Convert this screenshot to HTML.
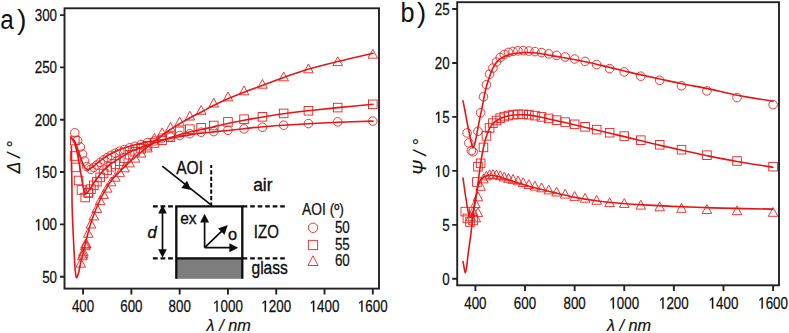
<!DOCTYPE html>
<html><head><meta charset="utf-8"><style>
html,body{margin:0;padding:0;background:#fff;}
body{width:789px;height:333px;overflow:hidden;font-family:"Liberation Sans",sans-serif;}
svg{display:block;}
</style></head><body>
<svg width="789" height="333" viewBox="0 0 789 333">
<rect width="789" height="333" fill="#fff"/>
<g fill="none" stroke="#ea2222" stroke-width="0.9">
<circle cx="372.80" cy="121.10" r="4.30"/><circle cx="337.69" cy="121.90" r="4.30"/><circle cx="308.43" cy="123.60" r="4.30"/><circle cx="283.66" cy="125.20" r="4.30"/><circle cx="262.44" cy="127.20" r="4.30"/><circle cx="244.05" cy="128.90" r="4.30"/><circle cx="227.95" cy="130.30" r="4.30"/><circle cx="213.75" cy="131.60" r="4.30"/><circle cx="201.13" cy="132.20" r="4.30"/><circle cx="189.83" cy="133.70" r="4.30"/><circle cx="179.67" cy="135.50" r="4.30"/><circle cx="170.47" cy="136.90" r="4.30"/><circle cx="162.11" cy="138.10" r="4.30"/><circle cx="154.48" cy="140.98" r="4.30"/><circle cx="147.48" cy="142.61" r="4.30"/><circle cx="141.04" cy="144.43" r="4.30"/><circle cx="135.10" cy="146.30" r="4.30"/><circle cx="129.60" cy="147.83" r="4.30"/><circle cx="124.49" cy="149.50" r="4.30"/><circle cx="119.73" cy="151.13" r="4.30"/><circle cx="115.29" cy="153.26" r="4.30"/><circle cx="111.14" cy="155.25" r="4.30"/><circle cx="107.24" cy="157.56" r="4.30"/><circle cx="103.58" cy="159.89" r="4.30"/><circle cx="100.14" cy="162.42" r="4.30"/><circle cx="96.90" cy="165.08" r="4.30"/><circle cx="93.83" cy="167.44" r="4.30"/><circle cx="90.93" cy="169.28" r="4.30"/><circle cx="74.80" cy="132.80" r="4.30"/><circle cx="77.60" cy="140.50" r="4.30"/><circle cx="80.30" cy="147.00" r="4.30"/><circle cx="82.50" cy="154.00" r="4.30"/><circle cx="84.60" cy="161.00" r="4.30"/><circle cx="86.80" cy="166.50" r="4.30"/><rect x="368.50" y="100.00" width="8.60" height="8.60"/><rect x="333.39" y="103.30" width="8.60" height="8.60"/><rect x="304.13" y="106.50" width="8.60" height="8.60"/><rect x="279.36" y="109.10" width="8.60" height="8.60"/><rect x="258.14" y="112.50" width="8.60" height="8.60"/><rect x="239.75" y="114.90" width="8.60" height="8.60"/><rect x="223.65" y="117.60" width="8.60" height="8.60"/><rect x="209.45" y="121.20" width="8.60" height="8.60"/><rect x="196.83" y="123.50" width="8.60" height="8.60"/><rect x="185.53" y="124.90" width="8.60" height="8.60"/><rect x="175.37" y="127.10" width="8.60" height="8.60"/><rect x="166.17" y="132.89" width="8.60" height="8.60"/><rect x="157.81" y="135.91" width="8.60" height="8.60"/><rect x="150.18" y="138.69" width="8.60" height="8.60"/><rect x="143.18" y="141.36" width="8.60" height="8.60"/><rect x="136.74" y="144.40" width="8.60" height="8.60"/><rect x="130.80" y="147.44" width="8.60" height="8.60"/><rect x="125.30" y="150.43" width="8.60" height="8.60"/><rect x="120.19" y="153.96" width="8.60" height="8.60"/><rect x="115.43" y="156.88" width="8.60" height="8.60"/><rect x="110.99" y="159.76" width="8.60" height="8.60"/><rect x="106.84" y="162.46" width="8.60" height="8.60"/><rect x="102.94" y="165.79" width="8.60" height="8.60"/><rect x="99.28" y="169.21" width="8.60" height="8.60"/><rect x="95.84" y="173.12" width="8.60" height="8.60"/><rect x="92.60" y="177.33" width="8.60" height="8.60"/><rect x="89.53" y="181.05" width="8.60" height="8.60"/><rect x="86.63" y="184.83" width="8.60" height="8.60"/><rect x="83.88" y="188.21" width="8.60" height="8.60"/><rect x="70.50" y="136.20" width="8.60" height="8.60"/><rect x="70.30" y="151.70" width="8.60" height="8.60"/><rect x="71.30" y="163.10" width="8.60" height="8.60"/><rect x="74.30" y="176.20" width="8.60" height="8.60"/><rect x="77.20" y="185.70" width="8.60" height="8.60"/><rect x="80.90" y="193.20" width="8.60" height="8.60"/><rect x="84.20" y="188.70" width="8.60" height="8.60"/><path d="M372.80 49.40L377.60 58.20L368.00 58.20Z"/><path d="M337.69 56.80L342.49 65.60L332.89 65.60Z"/><path d="M308.43 64.00L313.23 72.80L303.63 72.80Z"/><path d="M283.66 72.00L288.46 80.80L278.86 80.80Z"/><path d="M262.44 79.40L267.24 88.20L257.64 88.20Z"/><path d="M244.05 86.00L248.85 94.80L239.25 94.80Z"/><path d="M227.95 92.00L232.75 100.80L223.15 100.80Z"/><path d="M213.75 98.20L218.55 107.00L208.95 107.00Z"/><path d="M201.13 105.50L205.93 114.30L196.33 114.30Z"/><path d="M189.83 111.20L194.63 120.00L185.03 120.00Z"/><path d="M179.67 117.10L184.47 125.90L174.87 125.90Z"/><path d="M170.47 122.50L175.27 131.30L165.67 131.30Z"/><path d="M162.11 127.90L166.91 136.70L157.31 136.70Z"/><path d="M154.48 133.30L159.28 142.10L149.68 142.10Z"/><path d="M147.48 143.12L152.28 151.92L142.68 151.92Z"/><path d="M141.04 148.27L145.84 157.07L136.24 157.07Z"/><path d="M135.10 153.32L139.90 162.12L130.30 162.12Z"/><path d="M129.60 158.09L134.40 166.89L124.80 166.89Z"/><path d="M124.49 162.99L129.29 171.79L119.69 171.79Z"/><path d="M119.73 167.59L124.53 176.39L114.93 176.39Z"/><path d="M115.29 172.38L120.09 181.18L110.49 181.18Z"/><path d="M111.14 177.04L115.94 185.84L106.34 185.84Z"/><path d="M107.24 183.29L112.04 192.09L102.44 192.09Z"/><path d="M103.58 189.64L108.38 198.44L98.78 198.44Z"/><path d="M100.14 195.84L104.94 204.64L95.34 204.64Z"/><path d="M96.90 203.67L101.70 212.47L92.10 212.47Z"/><path d="M93.83 211.14L98.63 219.94L89.03 219.94Z"/><path d="M90.93 219.21L95.73 228.01L86.13 228.01Z"/><path d="M88.18 228.48L92.98 237.28L83.38 237.28Z"/><path d="M85.58 239.20L90.38 248.00L80.78 248.00Z"/><path d="M83.10 249.16L87.90 257.96L78.30 257.96Z"/><path d="M80.74 258.38L85.54 267.18L75.94 267.18Z"/><path d="M82.40 251.00L87.20 259.80L77.60 259.80Z"/><path d="M83.40 247.00L88.20 255.80L78.60 255.80Z"/><path d="M85.30 240.90L90.10 249.70L80.50 249.70Z"/><path d="M86.30 239.00L91.10 247.80L81.50 247.80Z"/>
<circle cx="773.10" cy="104.70" r="4.30"/><circle cx="737.01" cy="97.60" r="4.30"/><circle cx="706.94" cy="90.90" r="4.30"/><circle cx="681.50" cy="85.80" r="4.30"/><circle cx="659.69" cy="80.30" r="4.30"/><circle cx="640.79" cy="76.20" r="4.30"/><circle cx="624.25" cy="71.90" r="4.30"/><circle cx="609.66" cy="68.60" r="4.30"/><circle cx="596.68" cy="64.60" r="4.30"/><circle cx="585.08" cy="61.40" r="4.30"/><circle cx="574.63" cy="59.00" r="4.30"/><circle cx="565.18" cy="57.00" r="4.30"/><circle cx="556.59" cy="55.40" r="4.30"/><circle cx="548.75" cy="53.90" r="4.30"/><circle cx="541.55" cy="52.60" r="4.30"/><circle cx="534.94" cy="51.60" r="4.30"/><circle cx="528.83" cy="51.00" r="4.30"/><circle cx="523.18" cy="50.60" r="4.30"/><circle cx="517.93" cy="50.80" r="4.30"/><circle cx="513.04" cy="51.40" r="4.30"/><circle cx="508.48" cy="52.40" r="4.30"/><circle cx="504.21" cy="54.40" r="4.30"/><circle cx="500.21" cy="57.50" r="4.30"/><circle cx="496.45" cy="62.00" r="4.30"/><circle cx="492.91" cy="68.10" r="4.30"/><circle cx="489.58" cy="74.20" r="4.30"/><circle cx="486.43" cy="84.70" r="4.30"/><circle cx="483.45" cy="96.80" r="4.30"/><circle cx="480.62" cy="112.80" r="4.30"/><circle cx="477.94" cy="131.30" r="4.30"/><circle cx="473.10" cy="151.80" r="4.30"/><circle cx="471.40" cy="150.70" r="4.30"/><circle cx="468.90" cy="142.90" r="4.30"/><circle cx="467.10" cy="132.90" r="4.30"/><rect x="768.80" y="162.40" width="8.60" height="8.60"/><rect x="732.71" y="156.70" width="8.60" height="8.60"/><rect x="702.64" y="150.88" width="8.60" height="8.60"/><rect x="677.20" y="145.37" width="8.60" height="8.60"/><rect x="655.39" y="140.48" width="8.60" height="8.60"/><rect x="636.49" y="135.90" width="8.60" height="8.60"/><rect x="619.95" y="131.79" width="8.60" height="8.60"/><rect x="605.36" y="128.42" width="8.60" height="8.60"/><rect x="592.38" y="125.30" width="8.60" height="8.60"/><rect x="580.78" y="122.52" width="8.60" height="8.60"/><rect x="570.33" y="120.02" width="8.60" height="8.60"/><rect x="560.88" y="117.77" width="8.60" height="8.60"/><rect x="552.29" y="115.86" width="8.60" height="8.60"/><rect x="544.45" y="114.13" width="8.60" height="8.60"/><rect x="537.25" y="112.60" width="8.60" height="8.60"/><rect x="530.64" y="111.33" width="8.60" height="8.60"/><rect x="524.53" y="110.38" width="8.60" height="8.60"/><rect x="518.88" y="110.06" width="8.60" height="8.60"/><rect x="513.63" y="110.01" width="8.60" height="8.60"/><rect x="508.74" y="110.41" width="8.60" height="8.60"/><rect x="504.18" y="111.25" width="8.60" height="8.60"/><rect x="499.91" y="112.31" width="8.60" height="8.60"/><rect x="495.91" y="113.89" width="8.60" height="8.60"/><rect x="492.15" y="116.19" width="8.60" height="8.60"/><rect x="488.61" y="118.83" width="8.60" height="8.60"/><rect x="485.28" y="123.66" width="8.60" height="8.60"/><rect x="482.13" y="131.57" width="8.60" height="8.60"/><rect x="479.15" y="143.11" width="8.60" height="8.60"/><rect x="476.32" y="159.05" width="8.60" height="8.60"/><rect x="473.64" y="162.40" width="8.60" height="8.60"/><rect x="472.60" y="177.70" width="8.60" height="8.60"/><rect x="468.80" y="216.20" width="8.60" height="8.60"/><rect x="465.70" y="217.70" width="8.60" height="8.60"/><rect x="463.10" y="214.10" width="8.60" height="8.60"/><rect x="461.00" y="207.30" width="8.60" height="8.60"/><path d="M773.10 207.50L777.90 216.30L768.30 216.30Z"/><path d="M737.01 205.90L741.81 214.70L732.21 214.70Z"/><path d="M706.94 204.70L711.74 213.50L702.14 213.50Z"/><path d="M681.50 203.50L686.30 212.30L676.70 212.30Z"/><path d="M659.69 202.00L664.49 210.80L654.89 210.80Z"/><path d="M640.79 200.30L645.59 209.10L635.99 209.10Z"/><path d="M624.25 198.60L629.05 207.40L619.45 207.40Z"/><path d="M609.66 197.80L614.46 206.60L604.86 206.60Z"/><path d="M596.68 195.50L601.48 204.30L591.88 204.30Z"/><path d="M585.08 193.40L589.88 202.20L580.28 202.20Z"/><path d="M574.63 191.60L579.43 200.40L569.83 200.40Z"/><path d="M565.18 189.30L569.98 198.10L560.38 198.10Z"/><path d="M556.59 187.20L561.39 196.00L551.79 196.00Z"/><path d="M548.75 185.10L553.55 193.90L543.95 193.90Z"/><path d="M541.55 183.00L546.35 191.80L536.75 191.80Z"/><path d="M534.94 181.30L539.74 190.10L530.14 190.10Z"/><path d="M528.83 179.70L533.63 188.50L524.03 188.50Z"/><path d="M523.18 177.70L527.98 186.50L518.38 186.50Z"/><path d="M517.93 176.00L522.73 184.80L513.13 184.80Z"/><path d="M513.04 174.60L517.84 183.40L508.24 183.40Z"/><path d="M508.48 173.50L513.28 182.30L503.68 182.30Z"/><path d="M504.21 172.10L509.01 180.90L499.41 180.90Z"/><path d="M500.21 170.80L505.01 179.60L495.41 179.60Z"/><path d="M496.45 170.00L501.25 178.80L491.65 178.80Z"/><path d="M492.91 169.50L497.71 178.30L488.11 178.30Z"/><path d="M489.58 169.80L494.38 178.60L484.78 178.60Z"/><path d="M486.43 171.10L491.23 179.90L481.63 179.90Z"/><path d="M483.45 174.10L488.25 182.90L478.65 182.90Z"/><path d="M480.62 181.50L485.42 190.30L475.82 190.30Z"/><path d="M477.94 192.00L482.74 200.80L473.14 200.80Z"/><path d="M475.40 198.70L480.20 207.50L470.60 207.50Z"/><path d="M472.98 206.70L477.78 215.50L468.18 215.50Z"/><path d="M470.67 212.00L475.47 220.80L465.87 220.80Z"/><path d="M477.90 207.80L482.70 216.60L473.10 216.60Z"/><path d="M475.80 213.10L480.60 221.90L471.00 221.90Z"/>
</g>
<g fill="none" stroke="#e41616" stroke-width="1.6" stroke-linejoin="round" stroke-linecap="round">
<path d="M71.30 138.10 C71.83 138.55 73.33 138.68 74.50 140.80 C75.67 142.92 77.13 147.55 78.30 150.80 C79.47 154.05 80.55 157.72 81.50 160.30 C82.45 162.88 83.20 164.82 84.00 166.30 C84.80 167.78 85.55 168.69 86.30 169.20 C87.05 169.71 87.55 169.67 88.50 169.39 C89.45 169.10 90.58 168.47 92.00 167.49 C93.42 166.50 95.33 164.85 97.00 163.50 C98.67 162.15 99.83 160.93 102.00 159.40 C104.17 157.87 107.00 155.95 110.00 154.30 C113.00 152.65 116.83 150.80 120.00 149.50 C123.17 148.20 126.00 147.42 129.00 146.50 C132.00 145.58 135.00 144.75 138.00 144.00 C141.00 143.25 144.00 142.58 147.00 142.00 C150.00 141.42 153.00 140.97 156.00 140.50 C159.00 140.03 161.13 139.82 165.00 139.20 C168.87 138.58 175.17 137.51 179.20 136.79 C183.23 136.08 185.50 135.51 189.20 134.91 C192.90 134.31 197.35 133.68 201.40 133.18 C205.45 132.68 209.10 132.34 213.50 131.89 C217.90 131.44 222.72 131.00 227.80 130.47 C232.88 129.94 238.13 129.35 244.00 128.72 C249.87 128.08 256.37 127.27 263.00 126.68 C269.63 126.10 276.28 125.70 283.80 125.20 C291.32 124.70 299.10 124.18 308.10 123.70 C317.10 123.22 326.98 122.73 337.80 122.30 C348.62 121.87 367.13 121.30 373.00 121.10"/>
<path d="M71.30 137.60 C71.83 138.55 73.58 141.02 74.50 143.30 C75.42 145.58 76.05 148.13 76.80 151.30 C77.55 154.47 78.30 158.47 79.00 162.30 C79.70 166.13 80.33 170.30 81.00 174.30 C81.67 178.30 82.37 183.17 83.00 186.30 C83.63 189.43 84.22 191.90 84.80 193.10 C85.38 194.30 85.80 193.94 86.50 193.50 C87.20 193.06 87.92 192.03 89.00 190.49 C90.08 188.95 91.67 186.24 93.00 184.24 C94.33 182.25 95.50 180.54 97.00 178.50 C98.50 176.46 99.83 174.33 102.00 172.00 C104.17 169.67 107.00 166.83 110.00 164.50 C113.00 162.17 116.83 160.00 120.00 158.00 C123.17 156.00 126.00 154.07 129.00 152.50 C132.00 150.93 135.00 149.80 138.00 148.60 C141.00 147.40 144.00 146.30 147.00 145.30 C150.00 144.30 153.00 143.57 156.00 142.60 C159.00 141.63 161.13 140.80 165.00 139.50 C168.87 138.20 175.17 136.05 179.20 134.80 C183.23 133.55 185.50 132.87 189.20 132.00 C192.90 131.13 197.35 130.43 201.40 129.55 C205.45 128.68 209.10 127.76 213.50 126.75 C217.90 125.74 222.72 124.54 227.80 123.47 C232.88 122.40 238.13 121.41 244.00 120.33 C249.87 119.25 256.37 118.09 263.00 117.00 C269.63 115.91 276.28 114.83 283.80 113.80 C291.32 112.77 299.10 111.83 308.10 110.80 C317.10 109.77 326.98 108.68 337.80 107.60 C348.62 106.52 367.13 104.85 373.00 104.30"/>
<path d="M71.40 146.00 C71.43 149.17 71.52 158.50 71.60 165.00 C71.68 171.50 71.82 178.33 71.90 185.00 C71.98 191.67 71.95 198.33 72.10 205.00 C72.25 211.67 72.55 218.83 72.80 225.00 C73.05 231.17 73.33 236.50 73.60 242.00 C73.87 247.50 74.13 253.33 74.40 258.00 C74.67 262.67 74.90 266.80 75.20 270.00 C75.50 273.20 75.83 276.12 76.20 277.20 C76.57 278.28 76.93 277.53 77.40 276.50 C77.87 275.47 78.43 273.42 79.00 271.00 C79.57 268.58 79.90 265.83 80.80 262.00 C81.70 258.17 83.20 252.83 84.40 248.00 C85.60 243.17 86.73 237.75 88.00 233.00 C89.27 228.25 90.00 225.00 92.00 219.50 C94.00 214.00 97.67 205.05 100.00 200.00 C102.33 194.95 104.08 192.45 106.00 189.18 C107.92 185.91 109.17 183.36 111.50 180.36 C113.83 177.36 116.92 174.33 120.00 171.20 C123.08 168.07 126.67 164.63 130.00 161.60 C133.33 158.57 136.67 155.77 140.00 153.00 C143.33 150.23 146.43 147.83 150.00 145.00 C153.57 142.17 158.15 138.50 161.40 136.00 C164.65 133.50 166.53 132.00 169.50 130.00 C172.47 128.00 175.92 125.97 179.20 124.00 C182.48 122.03 185.50 120.20 189.20 118.20 C192.90 116.20 197.35 114.12 201.40 112.00 C205.45 109.88 209.10 107.70 213.50 105.50 C217.90 103.30 222.72 101.02 227.80 98.81 C232.88 96.59 238.13 94.45 244.00 92.20 C249.87 89.95 256.37 87.75 263.00 85.30 C269.63 82.85 276.28 80.17 283.80 77.51 C291.32 74.84 299.10 71.97 308.10 69.30 C317.10 66.63 326.98 64.18 337.80 61.50 C348.62 58.82 367.13 54.58 373.00 53.20"/>
<path d="M463.00 100.80 C463.33 102.50 464.30 107.30 465.00 111.00 C465.70 114.70 466.45 119.17 467.20 123.00 C467.95 126.83 468.78 130.58 469.50 134.00 C470.22 137.42 470.95 141.20 471.50 143.50 C472.05 145.80 472.38 147.38 472.80 147.80 C473.22 148.22 473.55 147.13 474.00 146.00 C474.45 144.87 474.93 143.50 475.50 141.00 C476.07 138.50 476.73 134.50 477.40 131.00 C478.07 127.50 478.73 123.83 479.50 120.00 C480.27 116.17 481.25 111.75 482.00 108.00 C482.75 104.25 483.33 100.83 484.00 97.50 C484.67 94.17 485.15 91.25 486.00 88.00 C486.85 84.75 488.10 81.00 489.10 78.00 C490.10 75.00 490.98 72.28 492.00 70.00 C493.02 67.72 494.12 65.93 495.20 64.30 C496.28 62.67 497.23 61.38 498.50 60.20 C499.77 59.02 500.82 58.18 502.80 57.20 C504.78 56.22 507.87 55.00 510.40 54.30 C512.93 53.60 515.47 53.30 518.00 53.00 C520.53 52.70 523.10 52.53 525.60 52.50 C528.10 52.47 530.47 52.60 533.00 52.80 C535.53 53.00 538.30 53.33 540.80 53.70 C543.30 54.07 545.47 54.55 548.00 55.00 C550.53 55.45 552.12 55.73 556.00 56.40 C559.88 57.07 566.22 58.07 571.30 59.00 C576.38 59.93 581.72 60.98 586.50 62.00 C591.28 63.02 596.18 64.20 600.00 65.10 C603.82 66.00 605.35 66.42 609.40 67.40 C613.45 68.38 619.03 69.75 624.30 71.00 C629.57 72.25 635.05 73.57 641.00 74.90 C646.95 76.23 653.17 77.52 660.00 79.00 C666.83 80.48 674.08 82.20 682.00 83.80 C689.92 85.40 698.33 86.70 707.50 88.60 C716.67 90.50 726.08 93.10 737.00 95.20 C747.92 97.30 767.00 100.20 773.00 101.20"/>
<path d="M463.00 178.00 C463.40 180.83 464.65 190.00 465.40 195.00 C466.15 200.00 466.87 204.58 467.50 208.00 C468.13 211.42 468.72 213.97 469.20 215.50 C469.68 217.03 469.97 217.12 470.40 217.20 C470.83 217.28 471.28 217.20 471.80 216.00 C472.32 214.80 472.93 212.50 473.50 210.00 C474.07 207.50 474.65 203.83 475.20 201.00 C475.75 198.17 476.27 196.50 476.80 193.00 C477.33 189.50 477.87 184.17 478.40 180.00 C478.93 175.83 479.48 171.67 480.00 168.00 C480.52 164.33 480.97 161.17 481.50 158.00 C482.03 154.83 482.62 151.83 483.20 149.00 C483.78 146.17 484.37 143.42 485.00 141.00 C485.63 138.58 486.30 136.50 487.00 134.50 C487.70 132.50 488.20 130.83 489.20 129.00 C490.20 127.17 491.38 125.13 493.00 123.50 C494.62 121.87 496.90 120.32 498.90 119.20 C500.90 118.08 502.82 117.45 505.00 116.80 C507.18 116.15 509.82 115.63 512.00 115.30 C514.18 114.97 515.60 114.87 518.10 114.80 C520.60 114.73 523.80 114.62 527.00 114.90 C530.20 115.18 533.47 115.78 537.30 116.50 C541.13 117.22 545.18 118.15 550.00 119.20 C554.82 120.25 559.53 121.25 566.20 122.80 C572.87 124.35 582.70 126.75 590.00 128.50 C597.30 130.25 604.28 131.95 610.00 133.30 C615.72 134.65 619.10 135.35 624.30 136.60 C629.50 137.85 635.22 139.33 641.20 140.80 C647.18 142.27 653.38 143.82 660.20 145.40 C667.02 146.98 674.22 148.57 682.10 150.30 C689.98 152.03 698.35 153.93 707.50 155.80 C716.65 157.67 726.08 159.60 737.00 161.50 C747.92 163.40 767.00 166.25 773.00 167.20"/>
<path d="M463.00 261.50 C463.20 262.58 463.82 266.12 464.20 268.00 C464.58 269.88 464.92 272.80 465.30 272.80 C465.68 272.80 466.05 270.97 466.50 268.00 C466.95 265.03 467.50 259.00 468.00 255.00 C468.50 251.00 469.03 247.33 469.50 244.00 C469.97 240.67 470.30 239.00 470.80 235.00 C471.30 231.00 471.88 225.00 472.50 220.00 C473.12 215.00 473.83 209.50 474.50 205.00 C475.17 200.50 475.85 196.42 476.50 193.00 C477.15 189.58 477.65 186.75 478.40 184.50 C479.15 182.25 479.95 180.82 481.00 179.50 C482.05 178.18 483.28 177.28 484.70 176.60 C486.12 175.92 488.10 175.58 489.50 175.40 C490.90 175.22 491.35 175.23 493.10 175.50 C494.85 175.77 496.85 176.08 500.00 177.00 C503.15 177.92 506.50 179.28 512.00 181.00 C517.50 182.72 525.98 185.37 533.00 187.30 C540.02 189.23 547.08 190.92 554.10 192.60 C561.12 194.28 568.08 196.03 575.10 197.40 C582.12 198.77 589.18 199.87 596.20 200.80 C603.22 201.73 608.57 202.28 617.20 203.00 C625.83 203.72 634.87 204.38 648.00 205.10 C661.13 205.82 680.00 206.72 696.00 207.30 C712.00 207.88 731.17 208.30 744.00 208.60 C756.83 208.90 768.17 209.02 773.00 209.10"/>
</g>
<g fill="none" stroke="#222222" stroke-width="1.9">
<rect x="64.5" y="8.3" width="314.5" height="280.3"/>
<rect x="457.2" y="2.2" width="321.8" height="283.1"/>
<path d="M60 276.70H64.5M60 224.38H64.5M60 172.06H64.5M60 119.74H64.5M60 67.42H64.5M60 15.10H64.5M83.10 288.6V294.4M131.38 288.6V294.4M179.67 288.6V294.4M227.95 288.6V294.4M276.24 288.6V294.4M324.52 288.6V294.4M372.80 288.6V294.4M452.2 278.80H457.2M452.2 224.84H457.2M452.2 170.88H457.2M452.2 116.92H457.2M452.2 62.96H457.2M452.2 9.00H457.2M475.40 285.3V290.9M525.02 285.3V290.9M574.63 285.3V290.9M624.25 285.3V290.9M673.86 285.3V290.9M723.48 285.3V290.9M773.10 285.3V290.9"/>
</g>
<g font-family="'Liberation Sans', sans-serif" fill="#111" stroke="#111" stroke-width="0.25">
<text transform="translate(42.14 282.60) scale(0.835 1)" x="0.00 8.90" font-size="16.00">50</text>
<text transform="translate(34.71 230.28) scale(0.835 1)" x="8.90 17.80" font-size="16.00">00</text><path transform="translate(34.71 230.28) scale(0.00652 -0.00781)" stroke="#111" stroke-width="45" d="M515 0V1237L197 1010V1180L530 1409H696V0Z"/>
<text transform="translate(34.71 177.96) scale(0.835 1)" x="8.90 17.80" font-size="16.00">50</text><path transform="translate(34.71 177.96) scale(0.00652 -0.00781)" stroke="#111" stroke-width="45" d="M515 0V1237L197 1010V1180L530 1409H696V0Z"/>
<text transform="translate(34.71 125.64) scale(0.835 1)" x="0.00 8.90 17.80" font-size="16.00">200</text>
<text transform="translate(34.71 73.32) scale(0.835 1)" x="0.00 8.90 17.80" font-size="16.00">250</text>
<text transform="translate(34.71 21.00) scale(0.835 1)" x="0.00 8.90 17.80" font-size="16.00">300</text>
<text transform="translate(71.95 311.70) scale(0.835 1)" x="0.00 8.90 17.80" font-size="16.00">400</text>
<text transform="translate(120.24 311.70) scale(0.835 1)" x="0.00 8.90 17.80" font-size="16.00">600</text>
<text transform="translate(168.52 311.70) scale(0.835 1)" x="0.00 8.90 17.80" font-size="16.00">800</text>
<text transform="translate(213.09 311.70) scale(0.835 1)" x="8.90 17.80 26.70" font-size="16.00">000</text><path transform="translate(213.09 311.70) scale(0.00652 -0.00781)" stroke="#111" stroke-width="45" d="M515 0V1237L197 1010V1180L530 1409H696V0Z"/>
<text transform="translate(261.38 311.70) scale(0.835 1)" x="8.90 17.80 26.70" font-size="16.00">200</text><path transform="translate(261.38 311.70) scale(0.00652 -0.00781)" stroke="#111" stroke-width="45" d="M515 0V1237L197 1010V1180L530 1409H696V0Z"/>
<text transform="translate(309.66 311.70) scale(0.835 1)" x="8.90 17.80 26.70" font-size="16.00">400</text><path transform="translate(309.66 311.70) scale(0.00652 -0.00781)" stroke="#111" stroke-width="45" d="M515 0V1237L197 1010V1180L530 1409H696V0Z"/>
<text transform="translate(357.94 311.70) scale(0.835 1)" x="8.90 17.80 26.70" font-size="16.00">600</text><path transform="translate(357.94 311.70) scale(0.00652 -0.00781)" stroke="#111" stroke-width="45" d="M515 0V1237L197 1010V1180L530 1409H696V0Z"/>
<text transform="translate(442.17 284.70) scale(0.835 1)" x="0.00" font-size="16.00">0</text>
<text transform="translate(442.17 230.74) scale(0.835 1)" x="0.00" font-size="16.00">5</text>
<text transform="translate(434.74 176.78) scale(0.835 1)" x="8.90" font-size="16.00">0</text><path transform="translate(434.74 176.78) scale(0.00652 -0.00781)" stroke="#111" stroke-width="45" d="M515 0V1237L197 1010V1180L530 1409H696V0Z"/>
<text transform="translate(434.74 122.82) scale(0.835 1)" x="8.90" font-size="16.00">5</text><path transform="translate(434.74 122.82) scale(0.00652 -0.00781)" stroke="#111" stroke-width="45" d="M515 0V1237L197 1010V1180L530 1409H696V0Z"/>
<text transform="translate(434.74 68.86) scale(0.835 1)" x="0.00 8.90" font-size="16.00">20</text>
<text transform="translate(434.74 14.90) scale(0.835 1)" x="0.00 8.90" font-size="16.00">25</text>
<text transform="translate(464.25 308.60) scale(0.835 1)" x="0.00 8.90 17.80" font-size="16.00">400</text>
<text transform="translate(513.87 308.60) scale(0.835 1)" x="0.00 8.90 17.80" font-size="16.00">600</text>
<text transform="translate(563.49 308.60) scale(0.835 1)" x="0.00 8.90 17.80" font-size="16.00">800</text>
<text transform="translate(609.39 308.60) scale(0.835 1)" x="8.90 17.80 26.70" font-size="16.00">000</text><path transform="translate(609.39 308.60) scale(0.00652 -0.00781)" stroke="#111" stroke-width="45" d="M515 0V1237L197 1010V1180L530 1409H696V0Z"/>
<text transform="translate(659.00 308.60) scale(0.835 1)" x="8.90 17.80 26.70" font-size="16.00">200</text><path transform="translate(659.00 308.60) scale(0.00652 -0.00781)" stroke="#111" stroke-width="45" d="M515 0V1237L197 1010V1180L530 1409H696V0Z"/>
<text transform="translate(708.62 308.60) scale(0.835 1)" x="8.90 17.80 26.70" font-size="16.00">400</text><path transform="translate(708.62 308.60) scale(0.00652 -0.00781)" stroke="#111" stroke-width="45" d="M515 0V1237L197 1010V1180L530 1409H696V0Z"/>
<text transform="translate(758.24 308.60) scale(0.835 1)" x="8.90 17.80 26.70" font-size="16.00">600</text><path transform="translate(758.24 308.60) scale(0.00652 -0.00781)" stroke="#111" stroke-width="45" d="M515 0V1237L197 1010V1180L530 1409H696V0Z"/>
</g>
<g font-family="'Liberation Sans', sans-serif" fill="#111" stroke="#111" stroke-width="0.2">
<text x="228.7" y="331.3" font-size="16.3" text-anchor="middle" font-style="italic">λ / nm</text>
<text x="629.1" y="331.3" font-size="16.3" text-anchor="middle" font-style="italic">λ / nm</text>
<text transform="translate(19.6 157.25) rotate(-90)" font-size="17.5" text-anchor="middle" font-style="italic">Δ / °</text>
<text transform="translate(426 156.9) rotate(-90)" font-size="17.5" text-anchor="middle" font-style="italic">Ψ / °</text>
</g>
<g font-family="'Liberation Sans', sans-serif" fill="#111">
<text transform="translate(0.20 29.10) scale(0.880 1)" font-size="27.50" text-anchor="start">a</text>
<text transform="translate(17.20 29.30) scale(1.000 1)" font-size="27.50" text-anchor="start">)</text>
<text transform="translate(400.40 22.10) scale(0.900 1)" font-size="28.00" text-anchor="start">b</text>
<text transform="translate(417.00 22.10) scale(1.000 1)" font-size="27.50" text-anchor="start">)</text>
</g>
<g stroke="#0d0d0d" fill="none"><path d="M152.9 206.4H173.2M152.9 258.3H173.2" stroke-width="2.3" stroke-dasharray="4.8 2.8"/><path d="M242.7 206.4H285M242.7 258.3H285" stroke-width="2.3" stroke-dasharray="4.6 2.9"/><path d="M211.2 206.75V165" stroke-width="2" stroke-dasharray="4.3 2.15"/></g><rect x="176.3" y="258.3" width="66" height="20.5" fill="#7d7d7d"/><g stroke="#0d0d0d" fill="none"><path d="M176.3 278.8V206.4H242.3V278.8M176.3 258.3H242.3" stroke-width="2.3"/><path d="M162.3 166.1L210.7 204.6" stroke-width="1.7"/></g><g fill="#0d0d0d" stroke="none"><path d="M191.20 189.90L181.29 187.90L187.02 180.70Z"/><path d="M162.50 205.00L166.80 213.60L158.20 213.60Z"/><path d="M162.50 257.80L158.20 249.20L166.80 249.20Z"/><path d="M204.60 213.80L209.10 222.60L200.10 222.60Z"/><path d="M238.20 247.70L229.40 252.20L229.40 243.20Z"/><path d="M227.80 225.10L224.48 234.79L218.11 228.42Z"/></g><g stroke="#0d0d0d" stroke-width="1.7" fill="none"><path d="M162.5 212V251M204.6 247.7V221M204.6 247.7H230.5M204.6 247.7L222.3 230.6"/></g><g font-family="'Liberation Sans', sans-serif" fill="#0d0d0d" stroke="#0d0d0d" stroke-width="0.35"><text transform="translate(176.30 174.00) scale(0.870 1)" font-size="17.80" text-anchor="start">AOI</text><text transform="translate(253.20 190.70) scale(0.970 1)" font-size="17.90" text-anchor="start">air</text><text transform="translate(253.80 237.90) scale(0.840 1)" font-size="17.90" text-anchor="start">IZO</text><text transform="translate(251.50 274.40) scale(0.870 1)" font-size="17.90" text-anchor="start">glass</text><text transform="translate(180.20 223.60) scale(0.950 1)" font-size="16.40" text-anchor="start">ex</text><text transform="translate(228.00 239.60) scale(1.000 1)" font-size="16.40" text-anchor="start">o</text><text transform="translate(147.40 238.00) scale(1.000 1)" font-size="16.60" text-anchor="start" font-style="italic">d</text></g><g font-family="'Liberation Sans', sans-serif" fill="#111" stroke="#111" stroke-width="0.25"><text transform="translate(302.00 214.90) scale(0.850 1)" font-size="16.30" text-anchor="start">AOI (º)</text><text transform="translate(334.90 232.60) scale(0.835 1)" font-size="16.00" text-anchor="start">50</text><text transform="translate(334.90 249.80) scale(0.835 1)" font-size="16.00" text-anchor="start">55</text><text transform="translate(334.90 266.20) scale(0.835 1)" font-size="16.00" text-anchor="start">60</text></g><g fill="none" stroke="#ec3a30" stroke-width="1.0"><circle cx="313.00" cy="227.80" r="4.70"/><rect x="308.40" y="240.40" width="9.20" height="9.20"/><path d="M313.00 255.80L318.10 265.50L307.90 265.50Z"/></g>
</svg>
</body></html>
